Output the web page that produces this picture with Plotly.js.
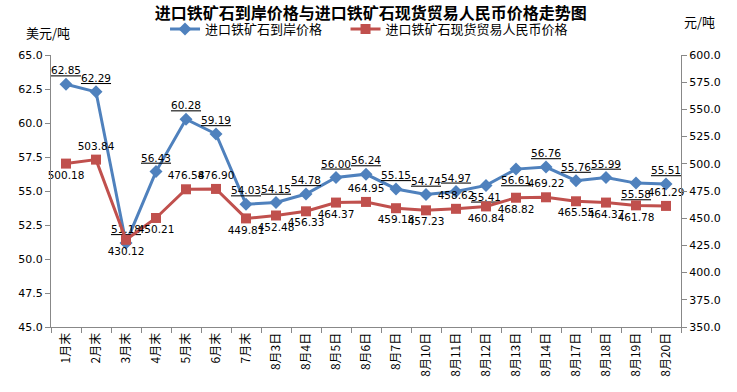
<!DOCTYPE html>
<html><head><meta charset="utf-8">
<script src="https://cdn.plot.ly/plotly-3.0.1.min.js"></script>
<style>html,body{margin:0;padding:0;background:#fff}#c{width:737px;height:392px}</style>
</head><body><div id="c"></div>
<script>
const categories = ["1月末","2月末","3月末","4月末","5月末","6月末","7月末","8月3日","8月4日","8月5日","8月6日","8月7日","8月10日","8月11日","8月12日","8月13日","8月14日","8月17日","8月18日","8月19日","8月20日"];
const usdPrice = [62.85,62.29,51.18,56.43,60.28,59.19,54.03,54.15,54.78,56.00,56.24,55.15,54.74,54.97,55.41,56.61,56.76,55.76,55.99,55.58,55.51];
const rmbPrice = [500.18,503.84,430.12,450.21,476.58,476.90,449.81,452.48,456.33,464.37,464.95,459.18,457.23,458.62,460.84,468.82,469.22,465.55,464.37,461.78,461.29];
const usdLabelPos = ["top center","top center","top center","top center","top center","top center","top center","top center","top center","top center","top center","top center","top center","top center","bottom center","bottom center","top center","top center","top center","bottom center","top center"];
const rmbLabelPos = ["bottom center","top center","bottom center","bottom center","top center","top center","bottom center","bottom center","bottom center","bottom center","top center","bottom center","bottom center","top center","bottom center","bottom center","top center","bottom center","bottom center","bottom center","top center"];
const seriesNames = ["进口铁矿石到岸价格","进口铁矿石现货贸易人民币价格"];

const cjk = '"Noto Sans CJK SC", sans-serif';
const num = '"DejaVu Sans", sans-serif';

const traces = [
  {
    x: categories, y: usdPrice, name: seriesNames[0], type: 'scatter', mode: 'lines+markers+text',
    line: {color: '#4F81BD', width: 3},
    marker: {symbol: 'diamond', size: 10, color: '#4F81BD'},
    text: usdPrice.map(v => '<u>' + v.toFixed(2) + '</u>'),
    textposition: usdLabelPos,
    textfont: {family: num, size: 10.5, color: '#000'},
    yaxis: 'y', cliponaxis: false, legend: 'legend'
  },
  {
    x: categories, y: rmbPrice, name: seriesNames[1], type: 'scatter', mode: 'lines+markers+text',
    line: {color: '#C0504D', width: 3},
    marker: {symbol: 'square', size: 10, color: '#C0504D'},
    text: rmbPrice.map(v => v.toFixed(2)),
    textposition: rmbLabelPos,
    textfont: {family: num, size: 10.5, color: '#000'},
    yaxis: 'y2', cliponaxis: false, legend: 'legend2'
  }
];

const axisCommon = {
  showline: true, linecolor: '#888', linewidth: 1, ticks: 'outside', ticklen: 5, tickcolor: '#888',
  showgrid: false, zeroline: false
};

const legendCommon = {orientation: 'h', xanchor: 'left', y: 1.095, yanchor: 'middle',
  font: {family: cjk, size: 13, color: '#000'}, bgcolor: 'rgba(0,0,0,0)'};

const layout = {
  width: 737, height: 392,
  margin: {l: 51, r: 56, t: 55, b: 65},
  paper_bgcolor: '#fff', plot_bgcolor: '#fff',
  title: {text: '<b>进口铁矿石到岸价格与进口铁矿石现货贸易人民币价格走势图</b>', font: {family: cjk, size: 16, color: '#000'},
          xref: 'container', x: 0.503, xanchor: 'center', yref: 'container', y: 0.967, yanchor: 'middle'},
  showlegend: true,
  legend: Object.assign({}, legendCommon, {x: 0.181}),
  legend2: Object.assign({}, legendCommon, {x: 0.4675}),
  xaxis: Object.assign({}, axisCommon, {
    type: 'category', tickson: 'boundaries', tickangle: -90, range: [-0.5, 20.5], autorange: false,
    tickfont: {family: cjk, size: 12, color: '#000'}
  }),
  yaxis: Object.assign({}, axisCommon, {
    range: [45, 65], dtick: 2.5, tick0: 45, tickformat: '.1f',
    tickfont: {family: num, size: 11, color: '#000'}
  }),
  yaxis2: Object.assign({}, axisCommon, {
    overlaying: 'y', side: 'right', range: [350, 600], dtick: 25, tick0: 350, tickformat: '.1f',
    tickfont: {family: num, size: 11, color: '#000'}
  }),
  annotations: [
    {text: '美元/吨', xref: 'paper', yref: 'paper', x: -0.005, y: 1.081, xanchor: 'center', yanchor: 'middle', showarrow: false,
     font: {family: cjk, size: 13, color: '#000'}},
    {text: '元/吨', xref: 'paper', yref: 'paper', x: 1.03, y: 1.125, xanchor: 'center', yanchor: 'middle', showarrow: false,
     font: {family: cjk, size: 13, color: '#000'}}
  ]
};

Plotly.newPlot('c', traces, layout, {displayModeBar: false, staticPlot: true});
</script></body></html>
